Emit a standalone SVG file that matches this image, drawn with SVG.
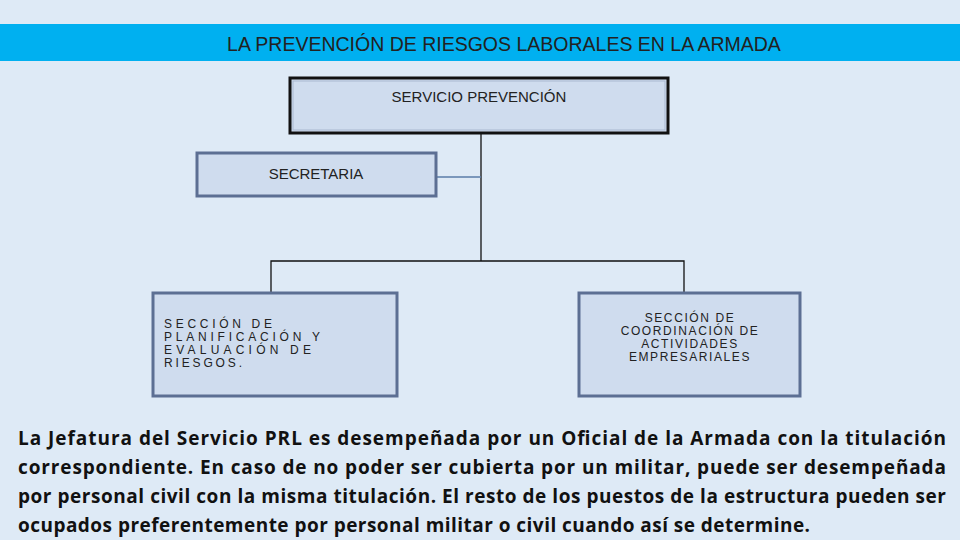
<svg xmlns="http://www.w3.org/2000/svg" width="960" height="540" viewBox="0 0 960 540">
<style>
.box{fill:#cfdcee;stroke:#5c6f93;stroke-width:3}
.in{fill:none;stroke:#a9b8d0;stroke-width:1}
.t{font-family:"Liberation Sans",Arial,sans-serif;fill:#222;font-size:12px}
.c{fill:none;stroke:#111;stroke-width:1.3}
.p{font-family:"Open Sans","Liberation Sans",sans-serif;font-weight:bold;font-size:19px;fill:#111}
</style>
<rect width="960" height="540" fill="#deeaf6"/>
<rect x="0" y="24" width="960" height="37" fill="#00b0f0"/>
<text x="504" y="51" text-anchor="middle" font-family="Liberation Sans,Arial,sans-serif" font-size="19.5" fill="#222">LA PREVENCIÓN DE RIESGOS LABORALES EN LA ARMADA</text>
<g id="connectors">
<path class="c" d="M481 134V261M271 292V261H684V292"/>
<path d="M437 177H481" stroke="#5a7ca8" stroke-width="1.3" fill="none"/>
</g>
<g id="servicio">
<rect x="290" y="78" width="378" height="55" fill="#cfdcee" stroke="#111" stroke-width="3"/>
<rect x="293" y="81" width="372" height="49" class="in"/>
<text x="479" y="102" text-anchor="middle" class="t" style="font-size:15px">SERVICIO PREVENCIÓN</text>
</g>
<g id="secretaria">
<rect x="197" y="153" width="239" height="43" class="box"/>
<text x="316" y="179" text-anchor="middle" class="t" style="font-size:15px">SECRETARIA</text>
</g>
<g id="planificacion">
<rect x="153" y="293" width="244" height="103" class="box"/>
<text class="t" x="164" y="328" textLength="108">SECCIÓN DE</text>
<text class="t" x="164" y="341" textLength="156">PLANIFICACIÓN Y</text>
<text class="t" x="164" y="354" textLength="147">EVALUACIÓN DE</text>
<text class="t" x="164" y="367" textLength="78">RIESGOS.</text>
</g>
<g id="coordinacion">
<rect x="579" y="293" width="221" height="103" class="box"/>
<text class="t" x="690" y="322" text-anchor="middle" letter-spacing="1.6">SECCIÓN DE</text>
<text class="t" x="690" y="335" text-anchor="middle" letter-spacing="1.6">COORDINACIÓN DE</text>
<text class="t" x="690" y="348" text-anchor="middle" letter-spacing="1.6">ACTIVIDADES</text>
<text class="t" x="690" y="361" text-anchor="middle" letter-spacing="1.6">EMPRESARIALES</text>
</g>
<g id="paragraph">
<text class="p" x="18" y="445" textLength="928" lengthAdjust="spacing">La Jefatura del Servicio PRL es desempeñada por un Oficial de la Armada con la titulación</text>
<text class="p" x="18" y="474" textLength="928" lengthAdjust="spacing">correspondiente. En caso de no poder ser cubierta por un militar, puede ser desempeñada</text>
<text class="p" x="18" y="503" textLength="928" lengthAdjust="spacing">por personal civil con la misma titulación. El resto de los puestos de la estructura pueden ser</text>
<text class="p" x="18" y="532" textLength="792" lengthAdjust="spacing">ocupados preferentemente por personal militar o civil cuando así se determine.</text>
</g>
</svg>
